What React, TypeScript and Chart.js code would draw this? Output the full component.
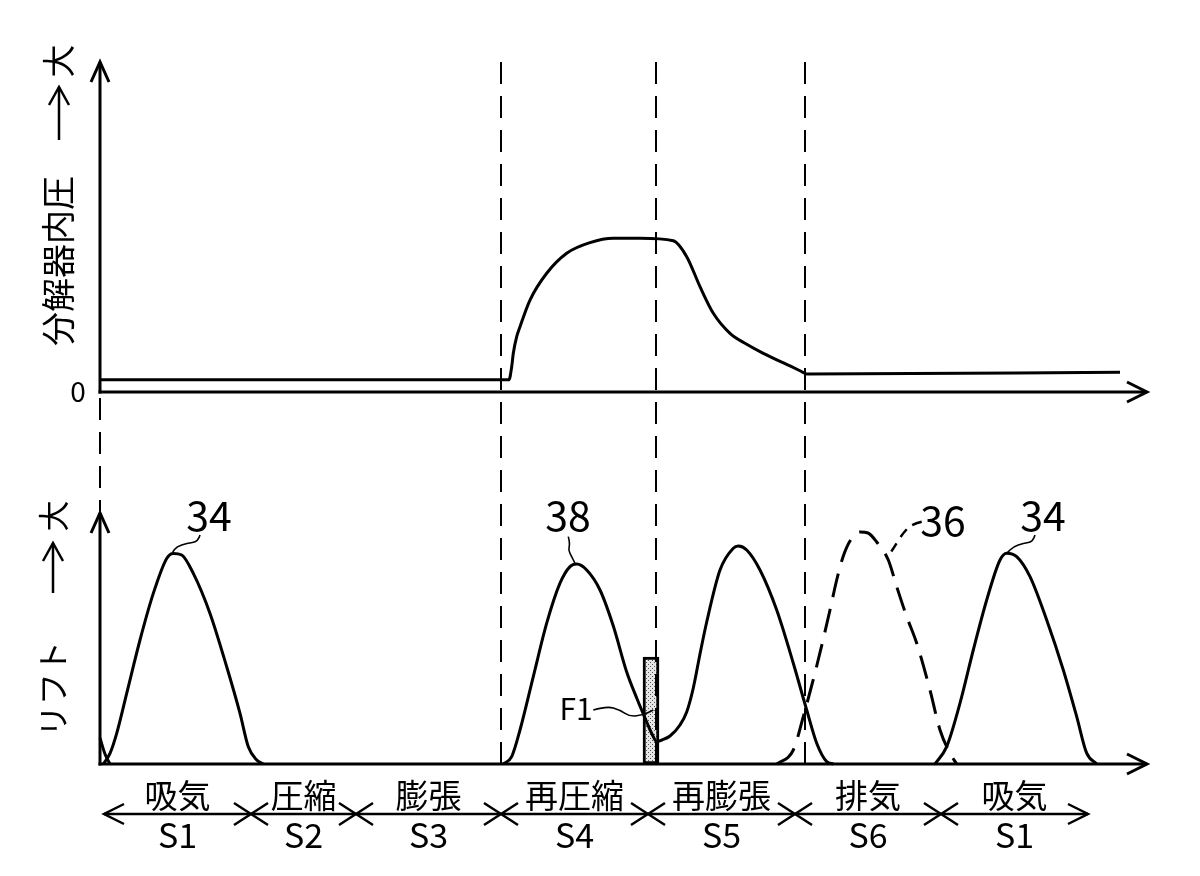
import React, { useEffect, useRef } from 'react';
import { Chart, registerables } from 'chart.js';

Chart.register(...registerables);

const W = 1200;
const H = 876;

// ---- data (x: timing from origin, pressure: relative units, lift: relative units) ----
const pressureX = [0, 409, 411.7, 413.3, 416.7, 420, 430, 446.7, 466.7, 490, 513.3, 540, 573.3, 586.7, 600, 613.3, 630, 646.7, 663.3, 690, 700, 706.7, 1020];
const pressureY = [8, 8, 16.4, 25.1, 35.9, 42.4, 59.7, 77.1, 90.1, 97.0, 99.8, 99.8, 98.2, 87.9, 68.4, 51.1, 38.1, 31.0, 25.1, 16.9, 13.8, 11.7, 12.8];

const tailX = [0, 5, 10];
const tailY = [1.3, 0.5, 0];

const lift34aX = [3.3, 10, 16.7, 26.7, 40, 53.3, 66.7, 73.3, 81.7, 93.3, 110, 126.7, 140, 148.3, 156.7, 163.3];
const lift34aY = [0, 0.53, 1.53, 3.53, 6.2, 8.53, 10.28, 10.53, 10.45, 9.53, 7.53, 4.86, 2.53, 0.86, 0.2, 0];

const lift38X = [403.3, 411.7, 420, 433.3, 446.7, 460, 470, 476.7, 486.7, 500, 513.3, 526.7, 536.7, 546.7, 552, 556.7, 562, 570, 580, 586.7, 593.3, 600, 606.7, 620, 633.3, 638.3, 646.7, 660, 676.7, 693.3, 706.7, 716.7, 726.7, 733.3];
const lift38Y = [0, 0.37, 1.7, 4.37, 7.04, 9.04, 9.87, 10.0, 9.7, 8.7, 6.9, 4.6, 3.3, 2.1, 1.5, 1.12, 1.2, 1.4, 1.95, 2.6, 3.8, 5.5, 7.1, 9.7, 10.79, 10.9, 10.7, 9.7, 7.7, 5.04, 2.7, 1.04, 0.12, 0];

const lift36X = [677, 693.3, 703.3, 716.7, 730, 736.7, 743, 750, 760, 768, 776.7, 788.3, 796.7, 806.7, 816.7, 830, 840, 850, 856.7];
const lift36Y = [0, 0.7, 2.37, 4.9, 7.7, 9.2, 10.35, 11.15, 11.6, 11.55, 11.1, 10.2, 8.87, 7.37, 6.04, 3.7, 1.7, 0.54, 0];

const lift34bX = [835, 846.7, 860, 873.3, 886.7, 900, 906.7, 916.7, 930, 946.7, 963.3, 976.7, 986.7, 996.7];
const lift34bY = [0, 0.87, 3.04, 5.7, 8.2, 10.2, 10.54, 10.37, 9.37, 7.2, 4.7, 2.37, 0.54, 0];

const f1X = 551;
const f1Range: [number, number] = [0, 5.35];

// stroke boundaries & labels
const strokeBounds = [4, 151, 256, 401, 548, 695, 841, 988];
const strokeNames = ['吸気', '圧縮', '膨張', '再圧縮', '再膨張', '排気', '吸気'];
const strokeCodes = ['S1', 'S2', 'S3', 'S4', 'S5', 'S6', 'S1'];

// vertical dashed timing lines
const dividerX = [401, 556, 705];

// curve reference labels (x, lift)
const curveLabels = [
  { text: '34', x: 109, y: 12.45, leader: [[100, 11.45], [98.3, 11.12], [86.7, 11.03], [76.7, 10.87], [72.7, 10.6]], dashed: false },
  { text: '38', x: 468, y: 12.45, leader: [[468.3, 11.37], [470, 11.03], [468.3, 10.7], [471.7, 10.37], [475, 10.03]], dashed: false },
  { text: '36', x: 843, y: 12.2, leader: [[821.7, 12.11], [812, 12.0], [803, 11.55], [795, 10.9], [788.3, 10.4]], dashed: true },
  { text: '34', x: 943, y: 12.45, leader: [[935, 11.45], [933.3, 11.12], [923.3, 11.03], [913.3, 10.87], [906.7, 10.53]], dashed: false },
  { text: 'F1', x: 476, y: 2.75, leader: [[493.3, 2.7], [506.7, 2.9], [520, 2.7], [530, 2.37], [543.3, 2.45], [553.3, 2.7]], dashed: false },
];

const X_MAX = 1047;
const P_MIN = -241.6;
const P_MAX = 214.3;
const L_MAX = 35.1;
const LIFT_AXIS_TOP = 12.55;

const FONT = '"Noto Sans CJK JP", "Noto Sans", sans-serif';

const pts = (xs: number[], ys: number[]) => xs.map((x, i) => ({ x, y: ys[i] }));

function makePattern(): CanvasPattern | string {
  const c = document.createElement('canvas');
  c.width = 4;
  c.height = 4;
  const g = c.getContext('2d');
  if (!g) return '#ccc';
  g.fillStyle = '#e6e6e6';
  g.fillRect(0, 0, 4, 4);
  g.fillStyle = '#555';
  g.fillRect(0, 0, 1, 1);
  g.fillRect(2, 2, 1, 1);
  const p = g.createPattern(c, 'repeat');
  return p || '#ccc';
}

const decor = {
  id: 'decor',
  beforeDraw(chart: any) {
    const { ctx } = chart;
    ctx.save();
    ctx.fillStyle = '#fff';
    ctx.fillRect(0, 0, chart.width, chart.height);
    ctx.restore();
  },
  afterDatasetsDraw(chart: any) {
    const { ctx, chartArea } = chart;
    const xs = chart.scales.x;
    const yP = chart.scales.yP;
    const yL = chart.scales.yL;
    const px = (v: number) => xs.getPixelForValue(v);
    const pP = (v: number) => yP.getPixelForValue(v);
    const pL = (v: number) => yL.getPixelForValue(v);

    ctx.save();
    ctx.strokeStyle = '#000';
    ctx.fillStyle = '#000';
    ctx.lineCap = 'butt';

    // dashed timing lines
    ctx.lineWidth = 2;
    ctx.setLineDash([22, 12]);
    dividerX.forEach((d) => {
      ctx.beginPath();
      ctx.moveTo(px(d), chartArea.top);
      ctx.lineTo(px(d), pL(-0.3));
      ctx.stroke();
    });
    ctx.beginPath();
    ctx.moveTo(px(0), pP(0) + 6);
    ctx.lineTo(px(0), pL(LIFT_AXIS_TOP) - 2);
    ctx.stroke();
    ctx.setLineDash([]);

    // axes
    ctx.lineWidth = 3;
    const vArrow = (x: number, yTop: number, yBot: number) => {
      ctx.beginPath();
      ctx.moveTo(x, yBot);
      ctx.lineTo(x, yTop);
      ctx.stroke();
      ctx.beginPath();
      ctx.moveTo(x - 9, yTop + 20);
      ctx.lineTo(x, yTop);
      ctx.lineTo(x + 9, yTop + 20);
      ctx.stroke();
    };
    const hArrow = (xl: number, xr: number, y: number) => {
      ctx.beginPath();
      ctx.moveTo(xl, y);
      ctx.lineTo(xr, y);
      ctx.stroke();
      ctx.beginPath();
      ctx.moveTo(xr - 20, y - 10);
      ctx.lineTo(xr, y);
      ctx.lineTo(xr - 20, y + 10);
      ctx.stroke();
    };
    vArrow(px(0), chartArea.top, pP(0) + 1.5);
    hArrow(px(0) - 1.5, px(X_MAX), pP(0));
    vArrow(px(0), pL(LIFT_AXIS_TOP), pL(0) + 1.5);
    hArrow(px(0) - 1.5, px(X_MAX), pL(0));

    // "0" label
    ctx.font = `28px ${FONT}`;
    ctx.textAlign = 'center';
    ctx.textBaseline = 'middle';
    ctx.fillText('0', px(-22), pP(0) - 1);

    // rotated axis titles
    const rotText = (t: string, x: number, y: number, size: number) => {
      ctx.save();
      ctx.translate(x, y);
      ctx.rotate(-Math.PI / 2);
      ctx.font = `${size}px ${FONT}`;
      ctx.textAlign = 'center';
      ctx.textBaseline = 'middle';
      ctx.fillText(t, 0, 0);
      ctx.restore();
    };
    const smallUpArrow = (x: number, yTop: number, yBot: number) => {
      ctx.lineWidth = 2.5;
      ctx.beginPath();
      ctx.moveTo(x, yBot);
      ctx.lineTo(x, yTop);
      ctx.stroke();
      ctx.beginPath();
      ctx.moveTo(x - 10, yTop + 18);
      ctx.lineTo(x, yTop);
      ctx.lineTo(x + 10, yTop + 18);
      ctx.stroke();
    };
    rotText('分解器内圧', 58, 261, 34);
    rotText('大', 58, 61, 33);
    smallUpArrow(59, 87, 140);
    rotText('リフト', 53, 689, 32);
    rotText('大', 53, 516, 31);
    smallUpArrow(53, 543, 593);

    // stroke arrows row
    const yRow = pL(-2.5);
    ctx.lineWidth = 2.5;
    ctx.beginPath();
    ctx.moveTo(px(strokeBounds[0]), yRow);
    ctx.lineTo(px(strokeBounds[strokeBounds.length - 1]), yRow);
    ctx.stroke();
    const xl = px(strokeBounds[0]);
    const xr = px(strokeBounds[strokeBounds.length - 1]);
    ctx.beginPath();
    ctx.moveTo(xl + 20, yRow - 10);
    ctx.lineTo(xl, yRow);
    ctx.lineTo(xl + 20, yRow + 10);
    ctx.moveTo(xr - 20, yRow - 10);
    ctx.lineTo(xr, yRow);
    ctx.lineTo(xr - 20, yRow + 10);
    ctx.stroke();
    for (let i = 1; i < strokeBounds.length - 1; i++) {
      const b = px(strokeBounds[i]);
      ctx.beginPath();
      ctx.moveTo(b - 17, yRow - 11);
      ctx.lineTo(b + 17, yRow + 11);
      ctx.moveTo(b - 17, yRow + 11);
      ctx.lineTo(b + 17, yRow - 11);
      ctx.stroke();
    }
    ctx.textAlign = 'center';
    ctx.textBaseline = 'middle';
    for (let i = 0; i < strokeNames.length; i++) {
      const cx = px((strokeBounds[i] + strokeBounds[i + 1]) / 2);
      ctx.font = `33px ${FONT}`;
      ctx.fillText(strokeNames[i], cx, pL(-1.55));
      ctx.font = `34px ${FONT}`;
      ctx.fillText(strokeCodes[i], cx, pL(-3.55));
    }

    // curve labels and leaders
    curveLabels.forEach((lab) => {
      ctx.font = lab.text === 'F1' ? `30px ${FONT}` : `41px ${FONT}`;
      ctx.textAlign = 'center';
      ctx.textBaseline = 'middle';
      ctx.fillText(lab.text, px(lab.x), pL(lab.y));
      const p = lab.leader.map(([a, b]) => [px(a), pL(b)]);
      ctx.lineWidth = lab.dashed ? 2.5 : 1.6;
      ctx.setLineDash(lab.dashed ? [10, 7] : []);
      ctx.beginPath();
      ctx.moveTo(p[0][0], p[0][1]);
      for (let i = 1; i < p.length - 1; i++) {
        const mx = (p[i][0] + p[i + 1][0]) / 2;
        const my = (p[i][1] + p[i + 1][1]) / 2;
        ctx.quadraticCurveTo(p[i][0], p[i][1], mx, my);
      }
      ctx.lineTo(p[p.length - 1][0], p[p.length - 1][1]);
      ctx.stroke();
      ctx.setLineDash([]);
    });

    ctx.restore();
  },
};

export default function App() {
  const ref = useRef<HTMLCanvasElement>(null);

  useEffect(() => {
    const canvas = ref.current;
    if (!canvas) return;
    const lineBase = {
      type: 'line' as const,
      borderColor: '#000',
      borderWidth: 3,
      pointRadius: 0,
      fill: false,
      cubicInterpolationMode: 'monotone' as const,
      clip: false as const,
      xAxisID: 'x',
    };
    const chart = new Chart(canvas, {
      type: 'line',
      data: {
        datasets: [
          { ...lineBase, label: 'pressure', data: pts(pressureX, pressureY), yAxisID: 'yP' },
          { ...lineBase, label: 'tail', data: pts(tailX, tailY), yAxisID: 'yL' },
          { ...lineBase, label: '34a', data: pts(lift34aX, lift34aY), yAxisID: 'yL' },
          { ...lineBase, label: '38', data: pts(lift38X, lift38Y), yAxisID: 'yL' },
          { ...lineBase, label: '36', data: pts(lift36X, lift36Y), yAxisID: 'yL', borderDash: [24, 12] },
          { ...lineBase, label: '34b', data: pts(lift34bX, lift34bY), yAxisID: 'yL' },
          {
            type: 'bar' as const,
            label: 'F1',
            data: [{ x: f1X, y: f1Range }] as any,
            xAxisID: 'x',
            yAxisID: 'yL',
            backgroundColor: makePattern() as any,
            borderColor: '#000',
            borderWidth: 3,
            borderSkipped: false,
            barThickness: 16,
            grouped: false,
          } as any,
        ],
      },
      options: {
        animation: false,
        responsive: false,
        devicePixelRatio: 1,
        events: [],
        layout: { padding: { left: 100, right: W - 100 - X_MAX, top: 62, bottom: 112 } },
        plugins: { legend: { display: false }, tooltip: { enabled: false } },
        scales: {
          x: { type: 'linear', min: 0, max: X_MAX, display: false, offset: false, grid: { display: false } },
          yP: { type: 'linear', axis: 'y', min: P_MIN, max: P_MAX, display: false, grid: { display: false } },
          yL: { type: 'linear', axis: 'y', min: 0, max: L_MAX, display: false, grid: { display: false } },
        } as any,
      },
      plugins: [decor],
    });
    return () => chart.destroy();
  }, []);

  return (
    <div style={{ position: 'absolute', left: 0, top: 0, width: W, height: H, background: '#fff' }}>
      <canvas ref={ref} width={W} height={H} style={{ display: 'block' }} />
    </div>
  );
}
